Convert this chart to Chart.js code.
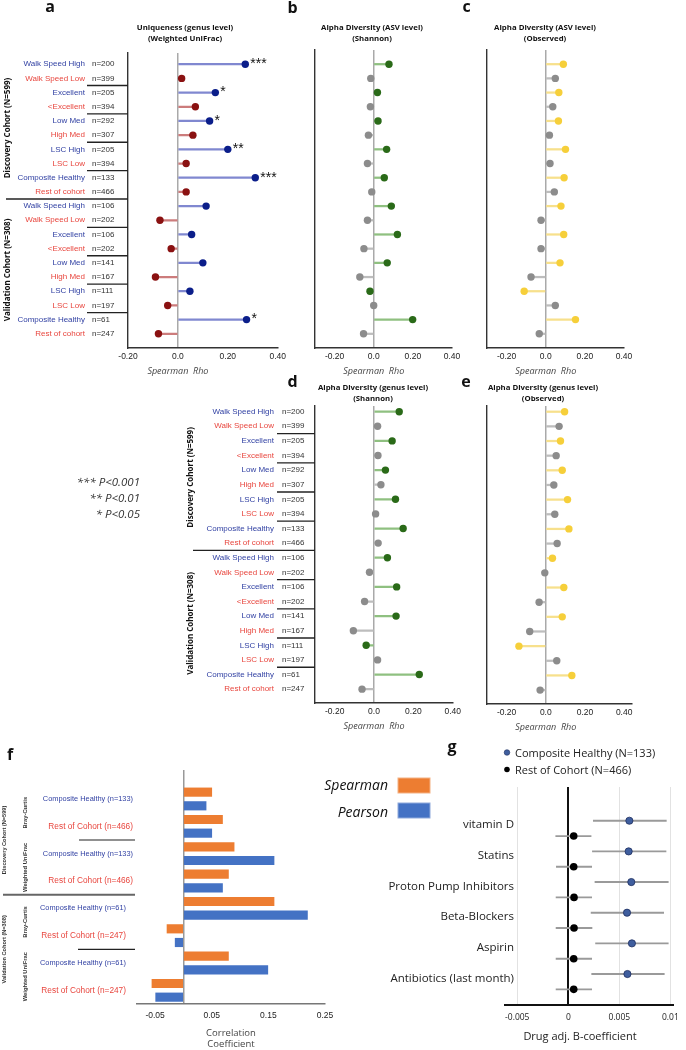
<!DOCTYPE html>
<html>
<head>
<meta charset="utf-8">
<title>Gut microbiome uniqueness and healthy ageing</title>
<script src="https://cdn.jsdelivr.net/npm/chart.js@4.4.1/dist/chart.umd.min.js"></script>
<style>
  html, body { margin: 0; padding: 0; background: #fff; }
  #fig { position: relative; width: 686px; height: 1050px; overflow: hidden; background: #fff; }
  #fig canvas { position: absolute; }
  #overlay { position: absolute; left: 0; top: 0; pointer-events: none; }
  #overlay text { font-family: 'Open Sans', sans-serif; fill: #111; }
  #overlay .letter { font-weight: 700; font-size: 16px; }
  #overlay .ttl { font-weight: 700; font-size: 7.8px; }
  #overlay .sig { font-style: italic; font-size: 11.5px; fill: #333; }
  #overlay .lg { font-style: italic; font-size: 14px; }
  #overlay .gl { font-size: 11px; fill: #222; }
</style>
</head>
<body>
<div id="fig">
  <canvas id="chart-a"></canvas>
  <canvas id="chart-b"></canvas>
  <canvas id="chart-c"></canvas>
  <canvas id="chart-d"></canvas>
  <canvas id="chart-e"></canvas>
  <canvas id="chart-f"></canvas>
  <canvas id="chart-g"></canvas>
  <svg id="overlay" width="686" height="1050">
    <text class="letter" x="50" y="12" text-anchor="middle">a</text>
    <text class="letter" x="292.5" y="12.5" text-anchor="middle">b</text>
    <text class="letter" x="466.5" y="12" text-anchor="middle">c</text>
    <text class="letter" x="292.5" y="387" text-anchor="middle">d</text>
    <text class="letter" x="466" y="386.5" text-anchor="middle">e</text>
    <text class="letter" x="10" y="760" text-anchor="middle">f</text>
    <text class="letter" x="452" y="752" text-anchor="middle">g</text>

    <text class="ttl" x="185" y="29.5" text-anchor="middle">Uniqueness (genus level)</text>
    <text class="ttl" x="185" y="40.5" text-anchor="middle">(Weighted UniFrac)</text>
    <text class="ttl" x="372" y="29.5" text-anchor="middle">Alpha Diversity (ASV level)</text>
    <text class="ttl" x="372" y="40.5" text-anchor="middle">(Shannon)</text>
    <text class="ttl" x="545" y="29.5" text-anchor="middle">Alpha Diversity (ASV level)</text>
    <text class="ttl" x="545" y="40.5" text-anchor="middle">(Observed)</text>
    <text class="ttl" x="373" y="390" text-anchor="middle">Alpha Diversity (genus level)</text>
    <text class="ttl" x="373" y="400.5" text-anchor="middle">(Shannon)</text>
    <text class="ttl" x="543" y="390" text-anchor="middle">Alpha Diversity (genus level)</text>
    <text class="ttl" x="543" y="400.5" text-anchor="middle">(Observed)</text>

    <text class="sig" x="140" y="486" text-anchor="end">*** P&lt;0.001</text>
    <text class="sig" x="140" y="502" text-anchor="end">** P&lt;0.01</text>
    <text class="sig" x="140" y="518" text-anchor="end">* P&lt;0.05</text>

    <text class="lg" x="388" y="790" text-anchor="end">Spearman</text>
    <rect x="398" y="778" width="32" height="15" fill="#ED7D31" stroke="#f4b183" stroke-width="1"></rect>
    <text class="lg" x="388" y="816.5" text-anchor="end">Pearson</text>
    <rect x="398" y="803" width="32" height="15" fill="#4472C4" stroke="#8faadc" stroke-width="1"></rect>

    <circle cx="507" cy="752.5" r="2.8" fill="#3f5e9e" stroke="#1e2f60" stroke-width="0.6"></circle>
    <text class="gl" x="515" y="756.5">Composite Healthy (N=133)</text>
    <circle cx="507" cy="769.5" r="2.8" fill="#000"></circle>
    <text class="gl" x="515" y="773.5">Rest of Cohort (N=466)</text>

    <text class="gl" x="580" y="1040" text-anchor="middle">Drug adj. B-coefficient</text>
  </svg>
</div>
<script>
(function () {
  'use strict';

  // ---- data ----
  var ROW_NAMES = ['Walk Speed High', 'Walk Speed Low', 'Excellent', '<Excellent', 'Low Med', 'High Med',
    'LSC High', 'LSC Low', 'Composite Healthy', 'Rest of cohort',
    'Walk Speed High', 'Walk Speed Low', 'Excellent', '<Excellent', 'Low Med', 'High Med',
    'LSC High', 'LSC Low', 'Composite Healthy', 'Rest of cohort'];
  var ROW_N = ['n=200', 'n=399', 'n=205', 'n=394', 'n=292', 'n=307', 'n=205', 'n=394', 'n=133', 'n=466',
    'n=106', 'n=202', 'n=106', 'n=202', 'n=141', 'n=167', 'n=111', 'n=197', 'n=61', 'n=247'];
  var COHORTS = ['Discovery Cohort (N=599)', 'Validation Cohort (N=308)'];

  var UNIQ_RHO = [0.27, 0.015, 0.15, 0.07, 0.127, 0.06, 0.20, 0.033, 0.31, 0.033,
    0.113, -0.072, 0.055, -0.027, 0.10, -0.09, 0.048, -0.041, 0.275, -0.078];
  var UNIQ_SIG = ['***', '', '*', '', '*', '', '**', '', '***', '',
    '', '', '', '', '', '', '', '', '*', ''];
  var ASV_SHANNON_RHO = [0.078, -0.015, 0.019, -0.017, 0.022, -0.027, 0.066, -0.032, 0.054, -0.010,
    0.09, -0.032, 0.121, -0.05, 0.069, -0.071, -0.019, 0.0, 0.199, -0.052];
  var ASV_OBSERVED_RHO = [0.090, 0.049, 0.067, 0.036, 0.065, 0.019, 0.101, 0.022, 0.094, 0.044,
    0.078, -0.024, 0.092, -0.024, 0.073, -0.075, -0.11, 0.049, 0.152, -0.033];
  var GENUS_SHANNON_RHO = [0.128, 0.018, 0.092, 0.02, 0.058, 0.035, 0.109, 0.008, 0.148, 0.021,
    0.068, -0.023, 0.115, -0.048, 0.112, -0.105, -0.04, 0.018, 0.23, -0.061];
  var GENUS_OBSERVED_RHO = [0.096, 0.068, 0.075, 0.053, 0.084, 0.041, 0.111, 0.046, 0.118, 0.058,
    0.034, -0.005, 0.092, -0.034, 0.084, -0.082, -0.137, 0.056, 0.133, -0.029];
  var RHO_TICKS = [-0.2, 0, 0.2, 0.4];
  var RHO_TICK_LABELS = ['-0.20', '0.0', '0.20', '0.40'];

  var F_GROUPS = ['Composite Healthy (n=133)', 'Rest of Cohort (n=466)', 'Composite Healthy (n=133)', 'Rest of Cohort (n=466)',
    'Composite Healthy (n=61)', 'Rest of Cohort (n=247)', 'Composite Healthy (n=61)', 'Rest of Cohort (n=247)'];
  var F_METRICS = ['Bray-Curtis', 'Weighted UniFrac', 'Bray-Curtis', 'Weighted UniFrac'];
  var SPEARMAN_R = [0.05, 0.069, 0.0895, 0.0795, 0.16, -0.029, 0.0795, -0.0556];
  var PEARSON_R = [0.04, 0.05, 0.16, 0.069, 0.219, -0.0146, 0.149, -0.049];
  var COEF_TICKS = [-0.05, 0, 0.05, 0.15, 0.25];
  var COEF_TICK_LABELS = ['-0.05', '', '0.05', '0.15', '0.25'];

  var DRUGS = ['vitamin D', 'Statins', 'Proton Pump Inhibitors', 'Beta-Blockers', 'Aspirin', 'Antibiotics (last month)'];
  var HEALTHY_B = [0.00598, 0.00591, 0.00617, 0.00575, 0.00623, 0.00579];
  var HEALTHY_LO = [0.00245, 0.00236, 0.00261, 0.00223, 0.00267, 0.00229];
  var HEALTHY_HI = [0.0096, 0.00957, 0.00979, 0.00934, 0.00979, 0.0094];
  var REST_B = [0.00053, 0.00053, 0.00056, 0.00056, 0.00053, 0.00053];
  var REST_LO = [-0.00123, -0.00117, -0.0012, -0.0012, -0.0012, -0.0012];
  var REST_HI = [0.00223, 0.00229, 0.00229, 0.00232, 0.00229, 0.00229];
  var DRUG_TICKS = [-0.005, 0, 0.005, 0.01];
  var DRUG_TICK_LABELS = ['-0.005', '0', '0.005', '0.01'];

  // ---- styling ----
  var BLUE_TXT = '#2f3fa2', RED_TXT = '#e8463e';
  var AXIS_H = 30;
  Chart.defaults.font.family = '"Liberation Sans", Arial, sans-serif';
  Chart.defaults.color = '#222';

  function fixTicks(vals) {
    return function (scale) { scale.ticks = vals.map(function (v) { return { value: v }; }); };
  }
  function onlyAtZero(color) {
    return function (ctx) { return ctx.tick && ctx.tick.value === 0 ? color : 'rgba(0,0,0,0)'; };
  }
  function place(id, box) {
    var cv = document.getElementById(id);
    cv.width = box[2]; cv.height = box[3];
    cv.style.left = box[0] + 'px'; cv.style.top = box[1] + 'px';
    return cv;
  }
  function padding(box, area, axisH) {
    return { left: area[0] - box[0], top: area[1] - box[1],
      right: box[0] + box[2] - area[2], bottom: box[1] + box[3] - area[3] - axisH };
  }
  // hidden row axis (linear, no offset), optionally with its left border line
  function rowAxis(min, max, withBorder) {
    return {
      type: 'linear', reverse: true, min: min, max: max, offset: false, beginAtZero: false,
      display: withBorder ? true : false,
      ticks: { display: false }, grid: { display: false, offset: false },
      border: { display: !!withBorder, color: '#333', width: 1.4 },
      afterFit: function (s) { s.width = 0; }
    };
  }

  // labels, dividers, stars and the rho caption for the lollipop panels
  function rowDecor(p) {
    var L = p.canvas[0];
    return {
      id: 'rowDecor',
      afterDraw: function (chart) {
        var ctx = chart.ctx, ys = chart.scales.y, xs = chart.scales.x, ca = chart.chartArea;
        ctx.save();
        ctx.textBaseline = 'middle';
        ctx.font = 'italic 9px "Open Sans"';
        ctx.fillStyle = '#444';
        ctx.textAlign = 'center';
        ctx.fillText('Spearman  Rho', xs.getPixelForValue(0), ca.bottom + 23);

        if (p.stars) {
          var meta = chart.getDatasetMeta(0);
          ctx.font = '14px "Liberation Sans"';
          ctx.fillStyle = '#111';
          ctx.textAlign = 'left';
          p.stars.forEach(function (s, i) {
            if (s) ctx.fillText(s, meta.data[i].x + 5, meta.data[i].y);
          });
        }

        if (p.side) {
          var sd = p.side;
          ctx.font = '8px "Liberation Sans"';
          ROW_NAMES.forEach(function (name, i) {
            var y = ys.getPixelForValue(i);
            ctx.textAlign = 'right';
            ctx.fillStyle = i % 2 ? RED_TXT : BLUE_TXT;
            ctx.fillText(name, sd.nameX - L, y);
            ctx.textAlign = 'left';
            ctx.fillStyle = '#333';
            ctx.fillText(ROW_N[i], sd.nX - L, y);
          });
          ctx.strokeStyle = '#222';
          ctx.lineWidth = 1.3;
          for (var i = 1; i < 19; i += 2) {
            var y = ys.getPixelForValue(i + 0.5);
            ctx.beginPath();
            ctx.moveTo((i === 9 ? sd.longX : sd.divX) - L, y);
            ctx.lineTo(ca.left, y);
            ctx.stroke();
          }
          ctx.font = 'bold 8px "Open Sans"';
          ctx.fillStyle = '#111';
          ctx.textAlign = 'center';
          COHORTS.forEach(function (c, k) {
            ctx.save();
            ctx.translate(sd.cohortX - L, ys.getPixelForValue(k * 10 + 4.5));
            ctx.rotate(-Math.PI / 2);
            ctx.fillText(c, 0, 0);
            ctx.restore();
          });
        }
        ctx.restore();
      }
    };
  }

  function lollipop(id, p) {
    var cv = place(id, p.canvas);
    var pts = p.vals.map(function (v, i) { return { x: v, y: i }; });
    var alt = function (pair) { return p.vals.map(function (v, i) { return pair[i % 2]; }); };
    return new Chart(cv, {
      type: 'bar',
      data: {
        datasets: [
          { type: 'scatter', data: pts, order: 0, pointRadius: 3.7, pointBorderWidth: 0,
            pointBackgroundColor: alt(p.dot) },
          { type: 'bar', data: pts, order: 1, barThickness: 1.6,
            backgroundColor: alt(p.stem) }
        ]
      },
      options: {
        indexAxis: 'y',
        responsive: false, animation: false, events: [],
        layout: { padding: padding(p.canvas, p.area, AXIS_H) },
        plugins: { legend: { display: false }, tooltip: { enabled: false } },
        scales: {
          x: {
            type: 'linear', min: p.x[0], max: p.x[1], offset: false,
            afterBuildTicks: fixTicks(RHO_TICKS),
            afterFit: function (s) { s.height = AXIS_H; },
            ticks: { autoSkip: false, maxRotation: 0, padding: 4, font: { size: 8.5 }, color: '#222',
              callback: function (v, i) { return RHO_TICK_LABELS[i]; } },
            grid: { offset: false, drawTicks: false, color: onlyAtZero('#a9a9a9'), lineWidth: 1.5 },
            border: { color: '#333', width: 1.4 }
          },
          y: rowAxis(p.y[0], p.y[1], true)
        }
      },
      plugins: [rowDecor(p)]
    });
  }

  var NAVY = ['#0b1e8a', '#8a1111'], NAVY_STEM = ['#8088d0', '#cc7c7c'];
  var GREEN = ['#2a6a18', '#8c8c8c'], GREEN_STEM = ['#8fc080', '#bdbdbd'];
  var YELLOW = ['#f6cf3a', '#8c8c8c'], YELLOW_STEM = ['#f7e08c', '#bdbdbd'];

  lollipop('chart-a', { canvas: [0, 0, 290, 380], area: [128, 53, 278, 348], x: [-0.2, 0.4], y: [-0.79, 20],
    vals: UNIQ_RHO, stars: UNIQ_SIG, dot: NAVY, stem: NAVY_STEM,
    side: { nameX: 85, nX: 92, divX: 87, longX: 6, cohortX: 8 } });
  lollipop('chart-b', { canvas: [290, 0, 175, 380], area: [315, 50, 452, 348], x: [-0.3, 0.4], y: [-1, 20],
    vals: ASV_SHANNON_RHO, dot: GREEN, stem: GREEN_STEM });
  lollipop('chart-c', { canvas: [465, 0, 180, 380], area: [487, 50, 624, 348], x: [-0.3, 0.4], y: [-1, 20],
    vals: ASV_OBSERVED_RHO, dot: YELLOW, stem: YELLOW_STEM });
  lollipop('chart-d', { canvas: [180, 376, 285, 360], area: [315, 406, 456, 703], x: [-0.3, 0.4], y: [-0.39, 19.95],
    vals: GENUS_SHANNON_RHO, dot: GREEN, stem: GREEN_STEM,
    side: { nameX: 274, nX: 282, divX: 277, longX: 193, cohortX: 191 } });
  lollipop('chart-e', { canvas: [465, 376, 190, 360], area: [487, 406, 632, 704], x: [-0.3, 0.44], y: [-0.39, 19.95],
    vals: GENUS_OBSERVED_RHO, dot: YELLOW, stem: YELLOW_STEM });

  // ---- f: correlation bars ----
  var F_BOX = [0, 760, 345, 290], F_AREA = [137, 770, 325, 1004];
  var fDecor = {
    id: 'coefDecor',
    afterDraw: function (chart) {
      var ctx = chart.ctx, ys = chart.scales.y, L = F_BOX[0];
      ctx.save();
      ctx.textBaseline = 'middle';
      ctx.textAlign = 'right';
      F_GROUPS.forEach(function (g, k) {
        var red = k % 2 === 1;
        ctx.font = (red ? '8.3px' : '7.4px') + ' "Liberation Sans"';
        ctx.fillStyle = red ? RED_TXT : BLUE_TXT;
        ctx.fillText(g, (k < 4 ? 133 : 126) - L, ys.getPixelForValue(k));
      });
      ctx.textAlign = 'center';
      ctx.fillStyle = '#333';
      function rot(text, x, y, font) {
        ctx.save();
        ctx.font = font;
        ctx.translate(x - L, y);
        ctx.rotate(-Math.PI / 2);
        ctx.fillText(text, 0, 0);
        ctx.restore();
      }
      F_METRICS.forEach(function (m, k) { rot(m, 25, ys.getPixelForValue(2 * k + 0.5), 'bold 5.8px "Liberation Sans"'); });
      COHORTS.forEach(function (c, k) { rot(c, 4, ys.getPixelForValue(4 * k + 1.5), 'bold 5.6px "Liberation Sans"'); });
      [[1.5, 79, '#222', 1.2], [3.5, 3, '#666', 2], [5.5, 78, '#222', 1.2]].forEach(function (d) {
        var y = ys.getPixelForValue(d[0]);
        ctx.strokeStyle = d[2];
        ctx.lineWidth = d[3];
        ctx.beginPath();
        ctx.moveTo(d[1] - L, y);
        ctx.lineTo(135 - L, y);
        ctx.stroke();
      });
      ctx.restore();
    }
  };
  var fRows = function (arr, off) { return arr.map(function (v, k) { return { x: v, y: k + off }; }); };
  new Chart(place('chart-f', F_BOX), {
    type: 'bar',
    data: {
      datasets: [
        { label: 'Spearman', grouped: false, barThickness: 8.5,
          data: fRows(SPEARMAN_R, -0.25), backgroundColor: '#ED7D31' },
        { label: 'Pearson', grouped: false, barThickness: 8.5,
          data: fRows(PEARSON_R, 0.25), backgroundColor: '#4472C4' }
      ]
    },
    options: {
      indexAxis: 'y',
      responsive: false, animation: false, events: [],
      layout: { padding: padding(F_BOX, F_AREA, 46) },
      plugins: { legend: { display: false }, tooltip: { enabled: false } },
      scales: {
        x: {
          type: 'linear', min: -0.082, max: 0.25, offset: false,
          afterBuildTicks: fixTicks(COEF_TICKS),
          afterFit: function (s) { s.height = 46; },
          ticks: { autoSkip: false, maxRotation: 0, padding: 7, font: { size: 8.5 }, color: '#222',
            callback: function (v, i) { return COEF_TICK_LABELS[i]; } },
          grid: { offset: false, drawTicks: false, color: onlyAtZero('#999'), lineWidth: 1.5 },
          border: { color: '#777', width: 1.5 },
          title: { display: true, text: ['Correlation', 'Coefficient'], color: '#444', padding: 0,
            font: { family: '"Open Sans"', size: 9.5, lineHeight: 1.2 } }
        },
        y: rowAxis(-1.06, 7.5, false)
      }
    },
    plugins: [fDecor]
  });

  // ---- g: drug-adjusted coefficients ----
  var G_BOX = [350, 775, 336, 275], G_AREA = [505, 787, 676, 1005];
  var gDecor = {
    id: 'drugDecor',
    afterDraw: function (chart) {
      var ctx = chart.ctx, ys = chart.scales.y;
      ctx.save();
      ctx.font = '11.5px "Open Sans"';
      ctx.fillStyle = '#222';
      ctx.textAlign = 'right';
      ctx.textBaseline = 'middle';
      DRUGS.forEach(function (d, k) { ctx.fillText(d, 514 - G_BOX[0], ys.getPixelForValue(2 * k + 0.28)); });
      ctx.restore();
    }
  };
  var ciRows = [];
  DRUGS.forEach(function (d, k) {
    ciRows.push({ x: [HEALTHY_LO[k], HEALTHY_HI[k]], y: 2 * k });
    ciRows.push({ x: [REST_LO[k], REST_HI[k]], y: 2 * k + 1 });
  });
  new Chart(place('chart-g', G_BOX), {
    type: 'bar',
    data: {
      datasets: [
        { type: 'scatter', order: 0, pointRadius: 3.6, pointBackgroundColor: '#3f5e9e',
          pointBorderColor: '#1e2f60', pointBorderWidth: 0.8,
          data: HEALTHY_B.map(function (v, k) { return { x: v, y: 2 * k }; }) },
        { type: 'scatter', order: 0, pointRadius: 3.8, pointBackgroundColor: '#000', pointBorderWidth: 0,
          data: REST_B.map(function (v, k) { return { x: v, y: 2 * k + 1 }; }) },
        { type: 'bar', order: 1, barThickness: 1.2, backgroundColor: '#9a9a9a', data: ciRows }
      ]
    },
    options: {
      indexAxis: 'y',
      responsive: false, animation: false, events: [],
      layout: { padding: padding(G_BOX, G_AREA, 45) },
      plugins: { legend: { display: false }, tooltip: { enabled: false } },
      scales: {
        x: {
          type: 'linear', min: -0.0062, max: 0.0103, offset: false,
          afterBuildTicks: fixTicks(DRUG_TICKS),
          afterFit: function (s) { s.height = 45; },
          ticks: { autoSkip: false, maxRotation: 0, padding: 7, color: '#222',
            font: { family: '"Open Sans"', size: 8.5 },
            callback: function (v, i) { return DRUG_TICK_LABELS[i]; } },
          grid: { offset: false, drawTicks: false,
            color: function (c) { return c.tick && c.tick.value === 0 ? '#111' : '#e2e2e2'; },
            lineWidth: function (c) { return c.tick && c.tick.value === 0 ? 2 : 1; } },
          border: { color: '#111', width: 2 }
        },
        y: rowAxis(-2.2, 12.02, false)
      }
    },
    plugins: [gDecor]
  });
})();
</script>
</body>
</html>
